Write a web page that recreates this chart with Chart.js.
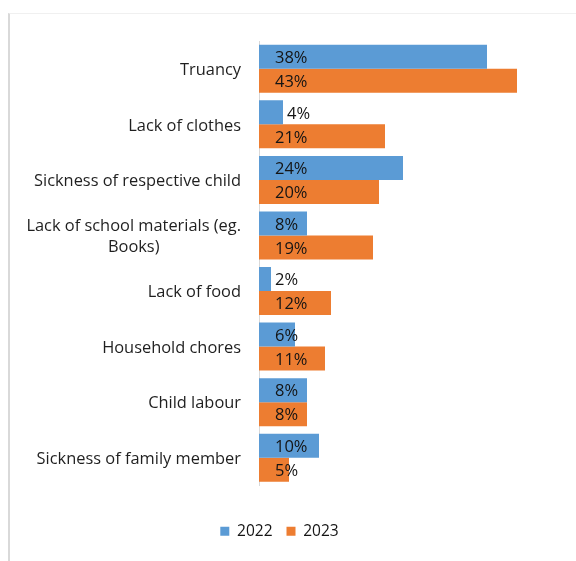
<!DOCTYPE html>
<html>
<head>
<meta charset="utf-8">
<script src="https://cdn.jsdelivr.net/npm/chart.js@4.4.0/dist/chart.umd.min.js"></script>
<style>
  body { margin: 0; background: #fff; }
  #wrap { position: relative; width: 576px; height: 561px; }
  #frame { position: absolute; left: 8px; top: 13px; right: 0; bottom: 0;
           border-left: 2px solid #d9d9d9; border-top: 1px solid #f0f0f0; }
  canvas { position: absolute; left: 0; top: 0; }
</style>
</head>
<body>
<div id="wrap">
  <div id="frame"></div>
  <canvas id="myChart" width="576" height="561"></canvas>
</div>
<script>
// categories from top to bottom
const categories = [
    'Truancy',
    'Lack of clothes',
    'Sickness of respective child',
    ['Lack of school materials (eg.', 'Books)'],
    'Lack of food',
    'Household chores',
    'Child labour',
    'Sickness of family member'
];
const seriesNames = ['2022', '2023'];
const values2022 = [38, 4, 24, 8, 2, 6, 8, 10];
const values2023 = [43, 21, 20, 19, 12, 11, 8, 5];

const FONT = '"Open Sans", sans-serif';

// etiquetas de categoria, centradas entre si y alineadas a la derecha
const categoryLabels = {
    id: 'categoryLabels',
    afterDraw(chart) {
        const ctx = chart.ctx;
        const yScale = chart.scales.y;
        ctx.save();
        ctx.font = '16.4px ' + FONT;
        ctx.fillStyle = '#1f1f1f';
        ctx.textAlign = 'center';
        ctx.textBaseline = 'middle';
        const lh = 21;
        categories.forEach((lab, i) => {
            const lines = Array.isArray(lab) ? lab : [lab];
            const maxW = Math.max(...lines.map(l => ctx.measureText(l).width));
            const cx = yScale.right - 18 - maxW / 2;
            const yc = yScale.getPixelForValue(i) + 1.5;
            const y0 = yc - (lines.length - 1) * lh / 2;
            lines.forEach((l, j) => ctx.fillText(l, cx, y0 + j * lh));
        });
        ctx.restore();
    }
};

// etiquetas de valores: dentro en la base, fuera si la barra es muy corta
const valueLabels = {
    id: 'valueLabels',
    afterDatasetsDraw(chart) {
        const ctx = chart.ctx;
        ctx.save();
        ctx.font = '16.5px ' + FONT;
        ctx.fillStyle = '#141414';
        ctx.textAlign = 'left';
        ctx.textBaseline = 'middle';
        chart.data.datasets.forEach((ds, di) => {
            chart.getDatasetMeta(di).data.forEach((bar, i) => {
                let x = bar.base + 16;
                if (bar.x - bar.base < 25) x = bar.x + 4;
                ctx.fillText(ds.data[i] + '%', x, bar.y + 1.5);
            });
        });
        ctx.restore();
    }
};

const ctx = document.getElementById('myChart').getContext('2d');
const myChart = new Chart(ctx, {
    type: 'bar',
    data: {
        labels: categories,
        datasets: [{
            label: seriesNames[0],
            data: values2022,
            backgroundColor: '#5b9bd5'
        }, {
            label: seriesNames[1],
            data: values2023,
            backgroundColor: '#ed7d31'
        }]
    },
    options: {
        indexAxis: 'y',
        responsive: false,
        animation: false,
        categoryPercentage: 0.865,
        barPercentage: 1,
        layout: { padding: { left: 0, right: 17, top: 41, bottom: 12 } },
        scales: {
            x: {
                min: 0,
                max: 50,
                grid: { display: false },
                border: { display: false },
                ticks: { display: false },
                afterFit: (scale) => { scale.height = 24; }
            },
            y: {
                grid: { display: false },
                border: { display: true, color: '#d9d9d9', width: 1 },
                ticks: { display: false },
                afterFit: (scale) => { scale.width = 259; }
            }
        },
        plugins: {
            legend: {
                position: 'bottom',
                labels: {
                    boxWidth: 9,
                    boxHeight: 9,
                    padding: 14,
                    color: '#141414',
                    font: { family: FONT, size: 15.5 }
                }
            },
            tooltip: { enabled: false }
        }
    },
    plugins: [categoryLabels, valueLabels]
});
</script>
</body>
</html>
